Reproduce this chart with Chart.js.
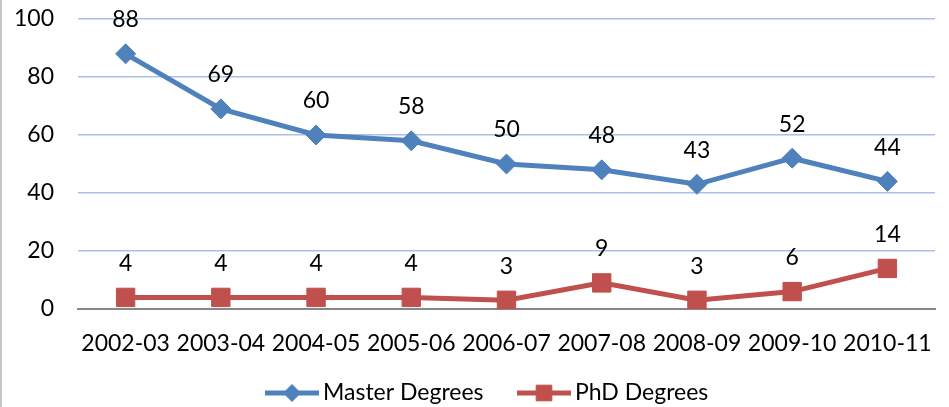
<!DOCTYPE html>
<html lang="en">
  <head>
    <meta charset="UTF-8" />
    <script src="https://cdn.jsdelivr.net/npm/chart.js"></script>
    <style>
      body { margin: 0; padding: 0; background: #ffffff; }
      .wrap {
        position: relative;
        width: 949px;
        height: 407px;
        box-sizing: border-box;
        border-left: 2px solid #c6c6c6;
      }
    </style>
  </head>
  <body>
    <div class="wrap"><canvas id="chart" width="947" height="407"></canvas></div>

    <script>
      const years = ["2002-03", "2003-04", "2004-05", "2005-06", "2006-07", "2007-08", "2008-09", "2009-10", "2010-11"];
      const masterDegrees = [88, 69, 60, 58, 50, 48, 43, 52, 44];
      const phdDegrees = [4, 4, 4, 4, 3, 9, 3, 6, 14];
      const yTicks = [0, 20, 40, 60, 80, 100];

      const font = "Lato, 'Open Sans', sans-serif";

      // value labels above each point
      const valueLabels = {
        id: "valueLabels",
        afterDatasetsDraw(chart) {
          const ctx = chart.ctx;
          ctx.save();
          ctx.fillStyle = "#000";
          ctx.font = `23px ${font}`;
          ctx.textAlign = "center";
          ctx.textBaseline = "middle";
          chart.data.datasets.forEach((ds, i) => {
            chart.getDatasetMeta(i).data.forEach((pt, j) => {
              ctx.fillText(ds.data[j], pt.x, pt.y - 34);
            });
          });
          ctx.restore();
        }
      };

      // excel style legend: line with marker in the middle
      const lineLegend = {
        id: "lineLegend",
        afterDraw(chart) {
          const ctx = chart.ctx;
          const items = [
            { ds: chart.data.datasets[0], x: 263 },
            { ds: chart.data.datasets[1], x: 515 }
          ];
          const y = 393;
          ctx.save();
          items.forEach(it => {
            ctx.strokeStyle = it.ds.borderColor;
            ctx.lineWidth = 5;
            ctx.beginPath();
            ctx.moveTo(it.x, y);
            ctx.lineTo(it.x + 54, y);
            ctx.stroke();
            ctx.fillStyle = it.ds.backgroundColor;
            ctx.strokeStyle = it.ds.borderColor;
            ctx.lineWidth = 1;
            Chart.helpers.drawPoint(ctx, {
              pointStyle: it.ds.pointStyle,
              radius: it.ds.pointRadius * 0.85,
              borderWidth: 1,
              rotation: 0
            }, it.x + 27, y);
            ctx.fillStyle = "#000";
            ctx.font = `23px ${font}`;
            ctx.textAlign = "left";
            ctx.textBaseline = "middle";
            ctx.fillText(it.ds.label, it.x + 58, y);
          });
          ctx.restore();
        }
      };

      new Chart(document.getElementById("chart"), {
        type: "line",
        data: {
          labels: years,
          datasets: [
            {
              label: "Master Degrees",
              data: masterDegrees,
              borderColor: "#4f81bd",
              backgroundColor: "#4f81bd",
              borderWidth: 5,
              pointStyle: "rectRot",
              pointRadius: 10,
              pointBorderWidth: 1,
              tension: 0
            },
            {
              label: "PhD Degrees",
              data: phdDegrees,
              borderColor: "#c0504d",
              backgroundColor: "#c0504d",
              borderWidth: 5,
              pointStyle: "rect",
              pointRadius: 13,
              pointBorderWidth: 1,
              tension: 0
            }
          ]
        },
        options: {
          responsive: false,
          animation: false,
          layout: { padding: { left: 0, right: 12, top: 19, bottom: 43 } },
          plugins: {
            legend: { display: false },
            tooltip: { enabled: false }
          },
          scales: {
            x: {
              offset: true,
              grid: { display: false, drawTicks: false },
              border: { color: "#868686", width: 2 },
              ticks: {
                color: "#000",
                padding: 21,
                maxRotation: 0,
                autoSkip: false,
                font: { family: font, size: 23 }
              },
              afterFit(scale) {
                scale.height = 55;
                scale.paddingLeft = 0;
                scale.paddingRight = 0;
              }
            },
            y: {
              min: 0,
              max: 100,
              afterBuildTicks(scale) { scale.ticks = yTicks.map(v => ({ value: v })); },
              grid: {
                color: ctx => (ctx.tick && ctx.tick.value === 0 ? "rgba(0,0,0,0)" : "#a9c0e8"),
                lineWidth: 1.6,
                drawTicks: false
              },
              border: { display: false },
              ticks: {
                color: "#000",
                padding: 24,
                font: { family: font, size: 23 }
              },
              afterFit(scale) {
                scale.width = 76;
                scale.paddingTop = 0;
                scale.paddingBottom = 0;
              }
            }
          }
        },
        plugins: [valueLabels, lineLegend]
      });
    </script>
  </body>
</html>
